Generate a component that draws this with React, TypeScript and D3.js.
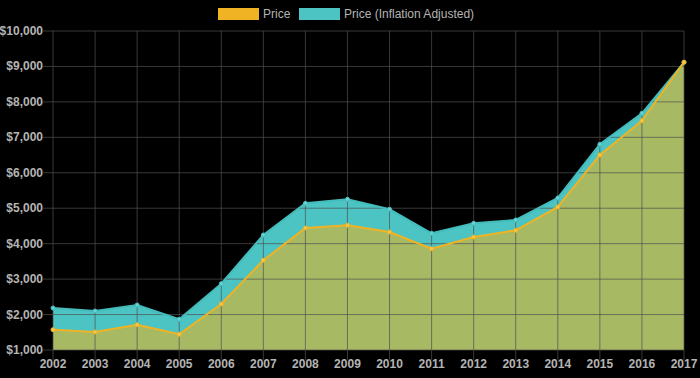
import React from "react";
import * as d3 from "d3";

const years = [2002, 2003, 2004, 2005, 2006, 2007, 2008, 2009, 2010, 2011, 2012, 2013, 2014, 2015, 2016, 2017];
const price = [1573, 1508, 1714, 1443, 2298, 3531, 4442, 4520, 4330, 3858, 4188, 4377, 5035, 6502, 7470, 9118];
const priceAdj = [2185, 2100, 2270, 1866, 2871, 4245, 5139, 5252, 4970, 4292, 4575, 4668, 5289, 6803, 7678, 9118];
const yTicks = [1000, 2000, 3000, 4000, 5000, 6000, 7000, 8000, 9000, 10000];
const seriesNames = ["Price", "Price (Inflation Adjusted)"];

const W = 700, H = 378;
const left = 53, right = 684, top = 31, bottom = 350;

export default function App() {
  const x = d3.scaleLinear().domain([2002, 2017]).range([left, right]);
  const y = d3.scaleLinear().domain([1000, 10000]).range([bottom, top]);
  const fmt = (v: number) => "$" + d3.format(",")(v);

  const adjPts = years.map((yr, i) => [yr, priceAdj[i]] as [number, number]);
  const pPts = years.map((yr, i) => [yr, price[i]] as [number, number]);
  const area = d3.area<[number, number]>().x(d => x(d[0])).y0(y(1000)).y1(d => y(d[1]));
  const line = d3.line<[number, number]>().x(d => x(d[0])).y(d => y(d[1]));

  const font = "'Liberation Sans', Arial, sans-serif";
  const gridColor = "rgba(80,80,80,0.7)";

  return (
    <svg width={W} height={H} style={{ position: "fixed", left: 0, top: 0, background: "#000" }}>
      <rect x={0} y={0} width={W} height={H} fill="#000" />
      <path d={area(adjPts) || ""} fill="#4cc4c4" />
      <path d={area(pPts) || ""} fill="#a8b964" />
      {yTicks.map(t => (
        <g key={t}>
          <line x1={left - 10} x2={right} y1={y(t)} y2={y(t)} stroke={gridColor} strokeWidth={1} />
          <text x={left - 10} y={y(t) + 4} textAnchor="end" fontFamily={font} fontSize={12} fontWeight={700} fill="#b4b4b4">{fmt(t)}</text>
        </g>
      ))}
      {years.map(yr => (
        <g key={yr}>
          <line x1={x(yr)} x2={x(yr)} y1={top} y2={bottom + 10} stroke={gridColor} strokeWidth={1} />
          <text x={x(yr)} y={bottom + 18} textAnchor="middle" fontFamily={font} fontSize={12} fontWeight={700} fill="#b4b4b4">{yr}</text>
        </g>
      ))}
      <path d={line(adjPts) || ""} fill="none" stroke="#45bcbc" strokeWidth={2} />
      <path d={line(pPts) || ""} fill="none" stroke="#f0b323" strokeWidth={2} />
      {adjPts.map((d, i) => (
        <circle key={"a" + i} cx={x(d[0])} cy={y(d[1])} r={2} fill="#6fd2d2" stroke="#45bcbc" strokeWidth={1} />
      ))}
      {pPts.map((d, i) => (
        <circle key={"p" + i} cx={x(d[0])} cy={y(d[1])} r={2} fill="#f5c84a" stroke="#f0b323" strokeWidth={1} />
      ))}
      <g fontFamily={font} fontSize={12} fill="#b4b4b4">
        <rect x={218} y={8} width={41} height={12} fill="#f0b323" />
        <text x={263} y={18}>{seriesNames[0]}</text>
        <rect x={299} y={8} width={41} height={12} fill="#4cc4c4" />
        <text x={344} y={18}>{seriesNames[1]}</text>
      </g>
    </svg>
  );
}
